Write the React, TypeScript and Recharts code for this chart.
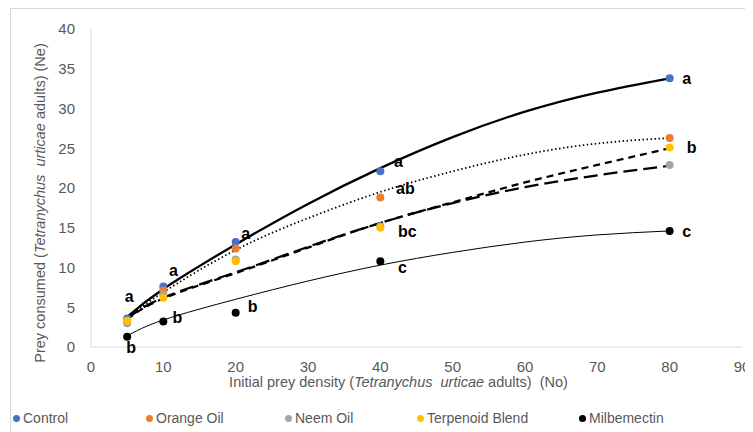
import React from 'react';
import { ComposedChart, Line, Scatter, XAxis, YAxis } from 'recharts';

const densities = [5, 10, 20, 40, 80];
const control = [3.6, 7.6, 13.2, 22.1, 33.8];
const orangeOil = [3.3, 7.1, 12.4, 18.8, 26.3];
const neemOil = [3.0, 6.6, 11.0, 15.2, 22.9];
const terpenoidBlend = [3.3, 6.2, 10.8, 15.0, 25.1];
const milbemectin = [1.3, 3.2, 4.3, 10.8, 14.6];

const controlLetters = ['a', 'a', 'a', 'a', 'a'];
const orangeLetters = ['', '', '', 'ab', ''];
const neemLetters = ['', '', '', '', ''];
const terpenoidLetters = ['', '', '', 'bc', 'b'];
const milbemectinLetters = ['b', 'b', 'b', 'c', 'c'];

const trendX = [5, 10, 20, 30, 40, 50, 60, 70, 80];
const controlTrend = [3.8, 7.3, 12.9, 18.0, 22.5, 26.4, 29.6, 32.0, 33.8];
const orangeTrend = [3.7, 6.9, 12.2, 16.2, 19.5, 22.1, 24.2, 25.6, 26.3];
const neemTrend = [3.6, 6.2, 9.4, 12.6, 15.6, 18.1, 20.1, 21.6, 22.8];
const terpenoidTrend = [3.5, 6.1, 9.3, 12.5, 15.6, 18.2, 20.7, 22.9, 25.0];
const milbemectinTrend = [1.4, 3.4, 6.0, 8.3, 10.3, 11.9, 13.2, 14.1, 14.6];

const xTicks = [0, 10, 20, 30, 40, 50, 60, 70, 80, 90];
const yTicks = [0, 5, 10, 15, 20, 25, 30, 35, 40];

const seriesNames = ['Control', 'Orange Oil', 'Neem Oil', 'Terpenoid Blend', 'Milbemectin'];
const seriesColors = ['#4472C4', '#ED7D31', '#A5A5A5', '#FFC000', '#000000'];

const FONT = "'Liberation Sans', Arial, sans-serif";

// pixel offsets for significance letters (per series, per point)
const letterOffsets: Record<string, [number, number][]> = {
  Control: [[2, -22], [10, -16], [10, -9], [18, -10], [17, 0]],
  'Orange Oil': [[0, 0], [0, 0], [0, 0], [25, -9], [0, 0]],
  'Neem Oil': [[0, 0], [0, 0], [0, 0], [0, 0], [0, 0]],
  'Terpenoid Blend': [[0, 0], [0, 0], [0, 0], [27, 4], [22, 0]],
  Milbemectin: [[4, 11], [14, -4], [17, -6], [22, 6], [17, 1]],
};

const build = (vals: number[], letters: string[]) =>
  densities.map((x, i) => ({ x, y: vals[i], letter: letters[i], idx: i }));

const buildTrend = (vals: number[]) => trendX.map((x, i) => ({ x, y: vals[i] }));

const pointSets = [
  build(control, controlLetters),
  build(orangeOil, orangeLetters),
  build(neemOil, neemLetters),
  build(terpenoidBlend, terpenoidLetters),
  build(milbemectin, milbemectinLetters),
];

const trendSets = [
  buildTrend(controlTrend),
  buildTrend(orangeTrend),
  buildTrend(neemTrend),
  buildTrend(terpenoidTrend),
  buildTrend(milbemectinTrend),
];

const trendStyles = [
  { width: 2.25, dash: undefined },
  { width: 1.75, dash: '1.5 2.5' },
  { width: 2.25, dash: '14 6' },
  { width: 2.25, dash: '7 5' },
  { width: 1, dash: undefined },
];

const makeShape = (name: string, color: string) => (props: any) => {
  const { cx, cy, payload } = props;
  if (cx == null || cy == null) return <g />;
  const off = letterOffsets[name][payload.idx] || [0, 0];
  return (
    <g>
      <circle cx={cx} cy={cy} r={4} fill={color} stroke="none" />
      {payload.letter ? (
        <text
          x={cx + off[0]}
          y={cy + off[1]}
          textAnchor="middle"
          dominantBaseline="central"
          fontFamily="'Liberation Sans', Arial, sans-serif"
          fontWeight="bold"
          fontSize={16}
          fill="#000"
        >
          {payload.letter}
        </text>
      ) : null}
    </g>
  );
};

const XTitle = (props: any) => {
  const vb = props.viewBox || {};
  const cx = vb.x + vb.width / 2 - 18;
  return (
    <text
      x={cx}
      y={379}
      textAnchor="middle"
      fontFamily={FONT}
      fontSize={14.5}
      fill="#595959"
    >
      <tspan>Initial prey density (</tspan>
      <tspan fontStyle="italic">{'Tetranychus\u00a0\u00a0urticae'}</tspan>
      <tspan>{' adults)\u00a0\u00a0(No)'}</tspan>
    </text>
  );
};

const YTitle = () => {
  const x = 32;
  const y = 195;
  return (
    <text
      x={x}
      y={y}
      transform={`rotate(-90, ${x}, ${y})`}
      textAnchor="middle"
      dominantBaseline="central"
      fontFamily={FONT}
      fontSize={14.5}
      fill="#595959"
    >
      <tspan>Prey consumed (</tspan>
      <tspan fontStyle="italic">{'Tetranychus\u00a0\u00a0urticae'}</tspan>
      <tspan> adults) (Ne)</tspan>
    </text>
  );
};

const legendLeft = [9, 142, 281, 413, 575];

export default function App() {
  return (
    <div style={{ position: 'relative', width: 745, height: 424, overflow: 'hidden', background: '#fff' }}>
      <div
        style={{
          position: 'absolute',
          left: 2,
          top: 0,
          width: 900,
          height: 600,
          border: '1px solid #d9d9d9',
          boxSizing: 'border-box',
        }}
      />
      <div style={{ position: 'absolute', left: 0, top: 0 }}>
        <ComposedChart width={745} height={424} margin={{ top: 21, right: 11, left: 0, bottom: 0 }}>
          <XAxis
            type="number"
            dataKey="x"
            domain={[0, 90]}
            ticks={xTicks}
            height={85}
            tickSize={0}
            tickMargin={14}
            stroke="#d9d9d9"
            tick={{ fill: '#595959', fontSize: 15, fontFamily: FONT }}
            label={<XTitle />}
          />
          <YAxis
            type="number"
            dataKey="y"
            domain={[0, 40]}
            ticks={yTicks}
            width={83}
            tickSize={0}
            tickMargin={16}
            stroke="#d9d9d9"
            tick={{ fill: '#595959', fontSize: 15, fontFamily: FONT }}
            label={<YTitle />}
          />
          {trendSets.map((d, i) => (
            <Line
              key={'t' + i}
              data={d}
              dataKey="y"
              type="natural"
              stroke="#000"
              strokeWidth={trendStyles[i].width}
              strokeDasharray={trendStyles[i].dash}
              dot={false}
              activeDot={false}
              isAnimationActive={false}
              legendType="none"
            />
          ))}
          {pointSets.map((d, i) => (
            <Scatter
              key={'s' + i}
              name={seriesNames[i]}
              data={d}
              dataKey="y"
              fill={seriesColors[i]}
              shape={makeShape(seriesNames[i], seriesColors[i])}
              isAnimationActive={false}
            />
          ))}
        </ComposedChart>
      </div>
      <div style={{ position: 'absolute', left: 0, top: 401, width: 745, height: 20 }}>
        {seriesNames.map((n, i) => (
          <div
            key={n}
            style={{
              position: 'absolute',
              left: legendLeft[i] - 4,
              top: 0,
              display: 'flex',
              alignItems: 'center',
              height: 18,
              fontFamily: FONT,
              fontSize: 14,
              color: '#595959',
              whiteSpace: 'nowrap',
            }}
          >
            <span
              style={{
                display: 'inline-block',
                width: 7,
                height: 7,
                borderRadius: '50%',
                background: seriesColors[i],
                marginRight: 3,
              }}
            />
            {n}
          </div>
        ))}
      </div>
    </div>
  );
}
